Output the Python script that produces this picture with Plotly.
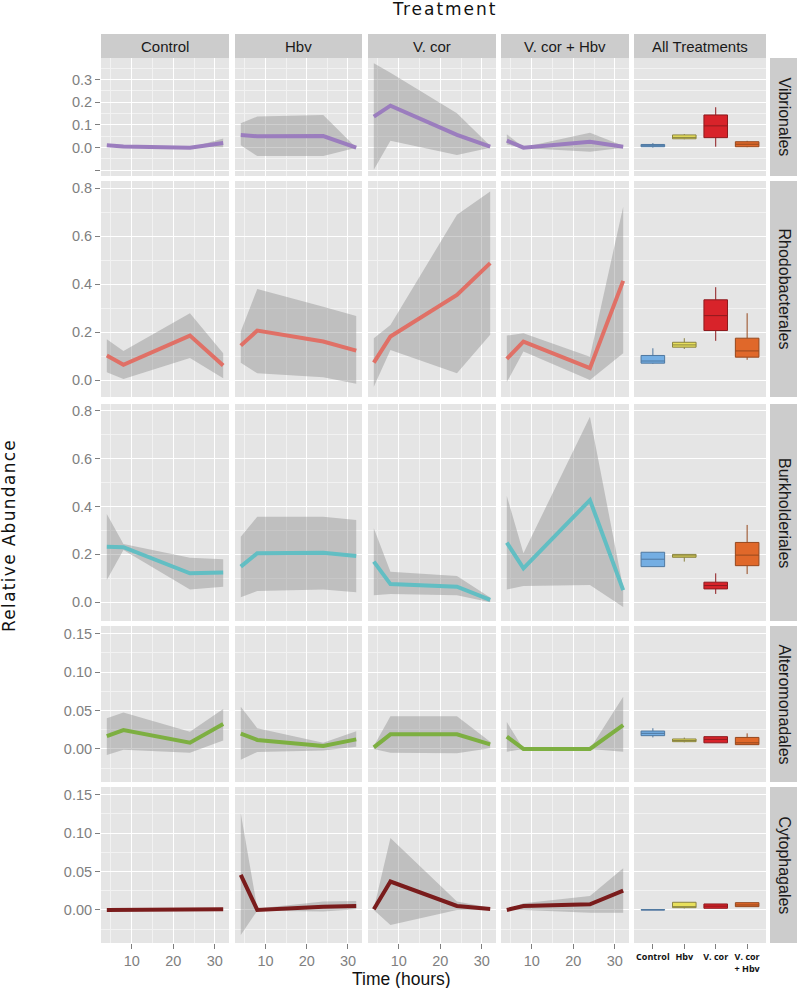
import plotly.graph_objects as go

W, H = 797, 988

# ---- data ----
times = [4, 8, 24, 32]
treatments = ["Control", "Hbv", "V. cor", "V. cor + Hbv"]
box_ticktext = ["Control", "Hbv", "V. cor", "V. cor<br>+ Hbv"]
orders = ["Vibrionales", "Rhodobacterales", "Burkholderiales", "Alteromonadales", "Cytophagales"]

# mean / lower / upper per treatment, at each time point
vib_mean = {"Control": [0.010, 0.005, 0.0, 0.020], "Hbv": [0.056, 0.050, 0.051, 0.0],
            "V. cor": [0.137, 0.185, 0.056, 0.004], "V. cor + Hbv": [0.031, 0.0, 0.026, 0.004]}
vib_lo = {"Control": [0.008, 0.004, 0.0, 0.002], "Hbv": [0.010, -0.037, -0.037, 0.0],
          "V. cor": [-0.098, 0.030, -0.032, 0.0], "V. cor + Hbv": [0.014, -0.002, -0.018, 0.0]}
vib_hi = {"Control": [0.012, 0.006, 0.0, 0.040], "Hbv": [0.107, 0.137, 0.144, 0.0],
          "V. cor": [0.372, 0.330, 0.151, 0.008], "V. cor + Hbv": [0.059, 0.002, 0.066, 0.008]}

rho_mean = {"Control": [0.103, 0.064, 0.186, 0.061], "Hbv": [0.144, 0.207, 0.161, 0.123],
            "V. cor": [0.073, 0.182, 0.355, 0.488], "V. cor + Hbv": [0.089, 0.161, 0.050, 0.414]}
rho_lo = {"Control": [0.033, 0.005, 0.092, 0.008], "Hbv": [0.073, 0.029, 0.012, -0.015],
          "V. cor": [-0.027, 0.126, 0.029, 0.189], "V. cor + Hbv": [-0.008, 0.120, 0.001, 0.112]}
rho_hi = {"Control": [0.171, 0.122, 0.279, 0.112], "Hbv": [0.203, 0.380, 0.306, 0.268],
          "V. cor": [0.175, 0.230, 0.689, 0.786], "V. cor + Hbv": [0.186, 0.196, 0.098, 0.723]}

bur_mean = {"Control": [0.232, 0.230, 0.121, 0.124], "Hbv": [0.149, 0.205, 0.207, 0.193],
            "V. cor": [0.170, 0.076, 0.065, 0.010], "V. cor + Hbv": [0.249, 0.142, 0.427, 0.051]}
bur_lo = {"Control": [0.093, 0.218, 0.054, 0.065], "Hbv": [0.021, 0.047, 0.054, 0.042],
          "V. cor": [0.030, 0.035, 0.030, 0.0], "V. cor + Hbv": [0.054, 0.068, 0.072, -0.020]}
bur_hi = {"Control": [0.369, 0.243, 0.186, 0.180], "Hbv": [0.274, 0.357, 0.357, 0.344],
          "V. cor": [0.309, 0.128, 0.110, 0.020], "V. cor + Hbv": [0.444, 0.205, 0.775, 0.060]}

alt_mean = {"Control": [0.0168, 0.0246, 0.0082, 0.0324], "Hbv": [0.020, 0.0117, 0.004, 0.0125],
            "V. cor": [0.002, 0.019, 0.019, 0.006], "V. cor + Hbv": [0.016, 0.0, 0.0, 0.031]}
alt_lo = {"Control": [-0.0078, -0.001, -0.005, 0.011], "Hbv": [-0.014, -0.004, -0.002, 0.003],
          "V. cor": [0.0, -0.005, -0.0056, 0.001], "V. cor + Hbv": [-0.0035, 0.0, 0.0, -0.0035]}
alt_hi = {"Control": [0.040, 0.0475, 0.0225, 0.052], "Hbv": [0.055, 0.027, 0.008, 0.023],
          "V. cor": [0.004, 0.0427, 0.0427, 0.0095], "V. cor + Hbv": [0.035, 0.0, 0.0, 0.068]}

cyt_mean = {"Control": [0.0, 0.0, 0.0, 0.001], "Hbv": [0.0457, 0.0, 0.0043, 0.0052],
            "V. cor": [0.001, 0.037, 0.0052, 0.0013], "V. cor + Hbv": [0.0, 0.0052, 0.0074, 0.0252]}
cyt_lo = {"Control": [0.0, 0.0, 0.0, 0.0], "Hbv": [-0.0326, -0.001, -0.002, 0.001],
          "V. cor": [0.0, -0.0196, 0.0, 0.0], "V. cor + Hbv": [0.0, 0.0, -0.0035, -0.0035]}
cyt_hi = {"Control": [0.0, 0.0, 0.0, 0.002], "Hbv": [0.126, 0.002, 0.011, 0.0117],
          "V. cor": [0.002, 0.0936, 0.011, 0.003], "V. cor + Hbv": [0.0, 0.0087, 0.018, 0.0544]}

# box stats: lowerfence, q1, median, q3, upperfence
vib_box = {"Control": [0.0, 0.004, 0.008, 0.014, 0.02], "Hbv": [0.037, 0.039, 0.045, 0.056, 0.06],
           "V. cor": [0.004, 0.044, 0.096, 0.144, 0.178], "V. cor + Hbv": [0.002, 0.004, 0.015, 0.026, 0.03]}
rho_box = {"Control": [0.068, 0.071, 0.08, 0.103, 0.133], "Hbv": [0.13, 0.1375, 0.147, 0.158, 0.175],
           "V. cor": [0.164, 0.207, 0.269, 0.335, 0.3875], "V. cor + Hbv": [0.085, 0.096, 0.122, 0.175, 0.279]}
bur_box = {"Control": [0.149, 0.149, 0.18, 0.209, 0.209], "Hbv": [0.17, 0.188, 0.194, 0.2, 0.2],
           "V. cor": [0.035, 0.056, 0.07, 0.084, 0.121], "V. cor + Hbv": [0.118, 0.153, 0.197, 0.25, 0.323]}
alt_box = {"Control": [0.015, 0.0173, 0.0203, 0.0233, 0.027], "Hbv": [0.0086, 0.0095, 0.011, 0.013, 0.0148],
           "V. cor": [0.008, 0.008, 0.0125, 0.016, 0.016], "V. cor + Hbv": [0.0056, 0.0056, 0.008, 0.015, 0.0203]}
cyt_box = {"Control": [0.0, 0.0, 0.0, 0.0005, 0.0005], "Hbv": [0.002, 0.003, 0.0039, 0.01, 0.01],
           "V. cor": [0.0022, 0.0022, 0.005, 0.0078, 0.0078], "V. cor + Hbv": [0.0043, 0.0043, 0.0065, 0.0095, 0.0095]}

series = {
    "Vibrionales": (vib_mean, vib_lo, vib_hi, vib_box),
    "Rhodobacterales": (rho_mean, rho_lo, rho_hi, rho_box),
    "Burkholderiales": (bur_mean, bur_lo, bur_hi, bur_box),
    "Alteromonadales": (alt_mean, alt_lo, alt_hi, alt_box),
    "Cytophagales": (cyt_mean, cyt_lo, cyt_hi, cyt_box),
}

# ---- styling ----
line_colors = {"Vibrionales": "#9b7dbe", "Rhodobacterales": "#e07066", "Burkholderiales": "#62bec3",
               "Alteromonadales": "#7daf41", "Cytophagales": "#7a1c1c"}
box_fill = {"Control": "#74aee3", "Hbv": "#e8e05c", "V. cor": "#d8232a", "V. cor + Hbv": "#e0682a"}
box_edge = {"Control": "#4f78a0", "Hbv": "#8a8440", "V. cor": "#8e1a1e", "V. cor + Hbv": "#96481e"}

# y axis per row: range, tick values, tick text, minor step
row_axes = [
    ([-0.125, 0.395], [-0.1, 0.0, 0.1, 0.2, 0.3], ["", "0.0", "0.1", "0.2", "0.3"], 0.05),
    ([-0.07, 0.83], [0.0, 0.2, 0.4, 0.6, 0.8], ["0.0", "0.2", "0.4", "0.6", "0.8"], 0.1),
    ([-0.078, 0.828], [0.0, 0.2, 0.4, 0.6, 0.8], ["0.0", "0.2", "0.4", "0.6", "0.8"], 0.1),
    ([-0.043, 0.16], [0.0, 0.05, 0.10, 0.15], ["0.00", "0.05", "0.10", "0.15"], 0.025),
    ([-0.043, 0.16], [0.0, 0.05, 0.10, 0.15], ["0.00", "0.05", "0.10", "0.15"], 0.025),
]

col_px = [(101, 229), (235, 362), (368, 496), (501, 629), (634, 766)]
row_px = [(58, 176), (181, 397), (404, 621), (626, 782), (787, 943)]
strip_top = (34, 58)
strip_right = (770, 797)

GRID = "white"
MINOR = "#f2f2f2"
PANEL = "#e5e5e5"
TICKC = "#7f7f7f"
FONT = "Liberation Sans, Arial, sans-serif"


def px_x(v):
    return v / W


def px_y(v):
    return 1 - v / H


def label(text, x, y, size, family=FONT, color="#1a1a1a", angle=0):
    return dict(text=text, xref="paper", yref="paper", showarrow=False,
                x=px_x(x), y=px_y(y), xanchor="center", yanchor="middle",
                textangle=angle, font=dict(family=family, size=size, color=color))


fig = go.Figure()
layout = {}
shapes = []
annotations = []

for r, order in enumerate(orders):
    mean, lo, hi, box = series[order]
    yr, yvals, ytext, ymin = row_axes[r]
    for c in range(5):
        n = r * 5 + c + 1
        xa = "x" if n == 1 else f"x{n}"
        ya = "y" if n == 1 else f"y{n}"
        xkey = "xaxis" if n == 1 else f"xaxis{n}"
        ykey = "yaxis" if n == 1 else f"yaxis{n}"
        x0, x1 = col_px[c]
        y0, y1 = row_px[r]

        if c < 4:
            t = treatments[c]
            fig.add_trace(go.Scatter(
                x=times + times[::-1], y=hi[t] + lo[t][::-1], fill="toself",
                fillcolor="rgba(128,128,128,0.38)", line=dict(width=0),
                mode="lines", hoverinfo="skip", showlegend=False, xaxis=xa, yaxis=ya))
            fig.add_trace(go.Scatter(
                x=times, y=mean[t], mode="lines",
                line=dict(color=line_colors[order], width=4),
                showlegend=False, xaxis=xa, yaxis=ya))
            layout[xkey] = dict(
                domain=[px_x(x0), px_x(x1)], anchor=ya, range=[2.6, 33.4],
                tickmode="array", tickvals=[10, 20, 30], ticktext=["10", "20", "30"],
                showticklabels=(r == 4), ticks="outside" if r == 4 else "",
                ticklen=5, tickwidth=1, tickcolor=TICKC,
                tickfont=dict(family=FONT, size=14.5, color=TICKC),
                showgrid=True, gridcolor=GRID, gridwidth=1.4, zeroline=False,
                minor=dict(tick0=0, dtick=5, showgrid=True, gridcolor=MINOR, gridwidth=0.7),
                showline=False, fixedrange=True)
        else:
            for i, t in enumerate(treatments):
                lf, q1, md, q3, uf = box[t]
                fig.add_trace(go.Box(
                    x=[box_ticktext[i]], lowerfence=[lf], q1=[q1], median=[md], q3=[q3],
                    upperfence=[uf], fillcolor=box_fill[t],
                    line=dict(color=box_edge[t], width=1), whiskerwidth=0, width=0.75,
                    showlegend=False, xaxis=xa, yaxis=ya, hoverinfo="skip"))
            layout[xkey] = dict(
                domain=[px_x(x0), px_x(x1)], anchor=ya, type="category",
                categoryorder="array", categoryarray=box_ticktext, range=[-0.6, 3.6],
                showticklabels=(r == 4), ticks="outside" if r == 4 else "",
                ticklen=5, tickwidth=1, tickcolor=TICKC,
                tickfont=dict(family="Open Sans, sans-serif", size=9, color="#111111",
                              weight="bold"),
                showgrid=False, zeroline=False, showline=False, fixedrange=True)

        layout[ykey] = dict(
            domain=[px_y(y1), px_y(y0)], anchor=xa, range=yr,
            tickmode="array", tickvals=yvals, ticktext=ytext,
            showticklabels=(c == 0), ticks="outside" if c == 0 else "",
            ticklen=5, tickwidth=1, tickcolor=TICKC,
            tickfont=dict(family=FONT, size=14.5, color=TICKC),
            showgrid=True, gridcolor=GRID, gridwidth=1.4, zeroline=False,
            minor=dict(tick0=0, dtick=ymin, showgrid=True, gridcolor=MINOR, gridwidth=0.7),
            showline=False, fixedrange=True)

        # panel background
        shapes.append(dict(type="rect", xref="paper", yref="paper", layer="below",
                           x0=px_x(x0), x1=px_x(x1), y0=px_y(y1), y1=px_y(y0),
                           fillcolor=PANEL, line=dict(width=0)))

    # right strip
    shapes.append(dict(type="rect", xref="paper", yref="paper",
                       x0=px_x(strip_right[0]), x1=px_x(strip_right[1]),
                       y0=px_y(row_px[r][1]), y1=px_y(row_px[r][0]),
                       fillcolor="#cccccc", line=dict(width=0)))
    annotations.append(label(order, (strip_right[0] + strip_right[1]) / 2 + 1,
                             (row_px[r][0] + row_px[r][1]) / 2, 16, angle=90))

strip_titles = treatments + ["All Treatments"]
for c, title in enumerate(strip_titles):
    x0, x1 = col_px[c]
    shapes.append(dict(type="rect", xref="paper", yref="paper",
                       x0=px_x(x0), x1=px_x(x1), y0=px_y(strip_top[1]), y1=px_y(strip_top[0]),
                       fillcolor="#cccccc", line=dict(width=0)))
    annotations.append(label(title, (x0 + x1) / 2, sum(strip_top) / 2, 15))

annotations += [
    label("<span style='letter-spacing:2px'>Treatment</span>", 445, 9, 17,
          family="DejaVu Sans", color="#111111"),
    label("<span style='letter-spacing:1.3px'>Relative Abundance</span>", 9, 536, 17,
          family="DejaVu Sans", color="#111111", angle=-90),
    label("Time (hours)", 402, 979, 17.5, color="#111111"),
]

fig.update_layout(
    width=W, height=H, margin=dict(l=0, r=0, t=0, b=0),
    paper_bgcolor="white", plot_bgcolor="rgba(0,0,0,0)",
    boxmode="overlay", shapes=shapes, annotations=annotations, **layout)

fig.write_html("out.html", config={"displayModeBar": False},
               post_script="document.body.style.margin='0px';")
